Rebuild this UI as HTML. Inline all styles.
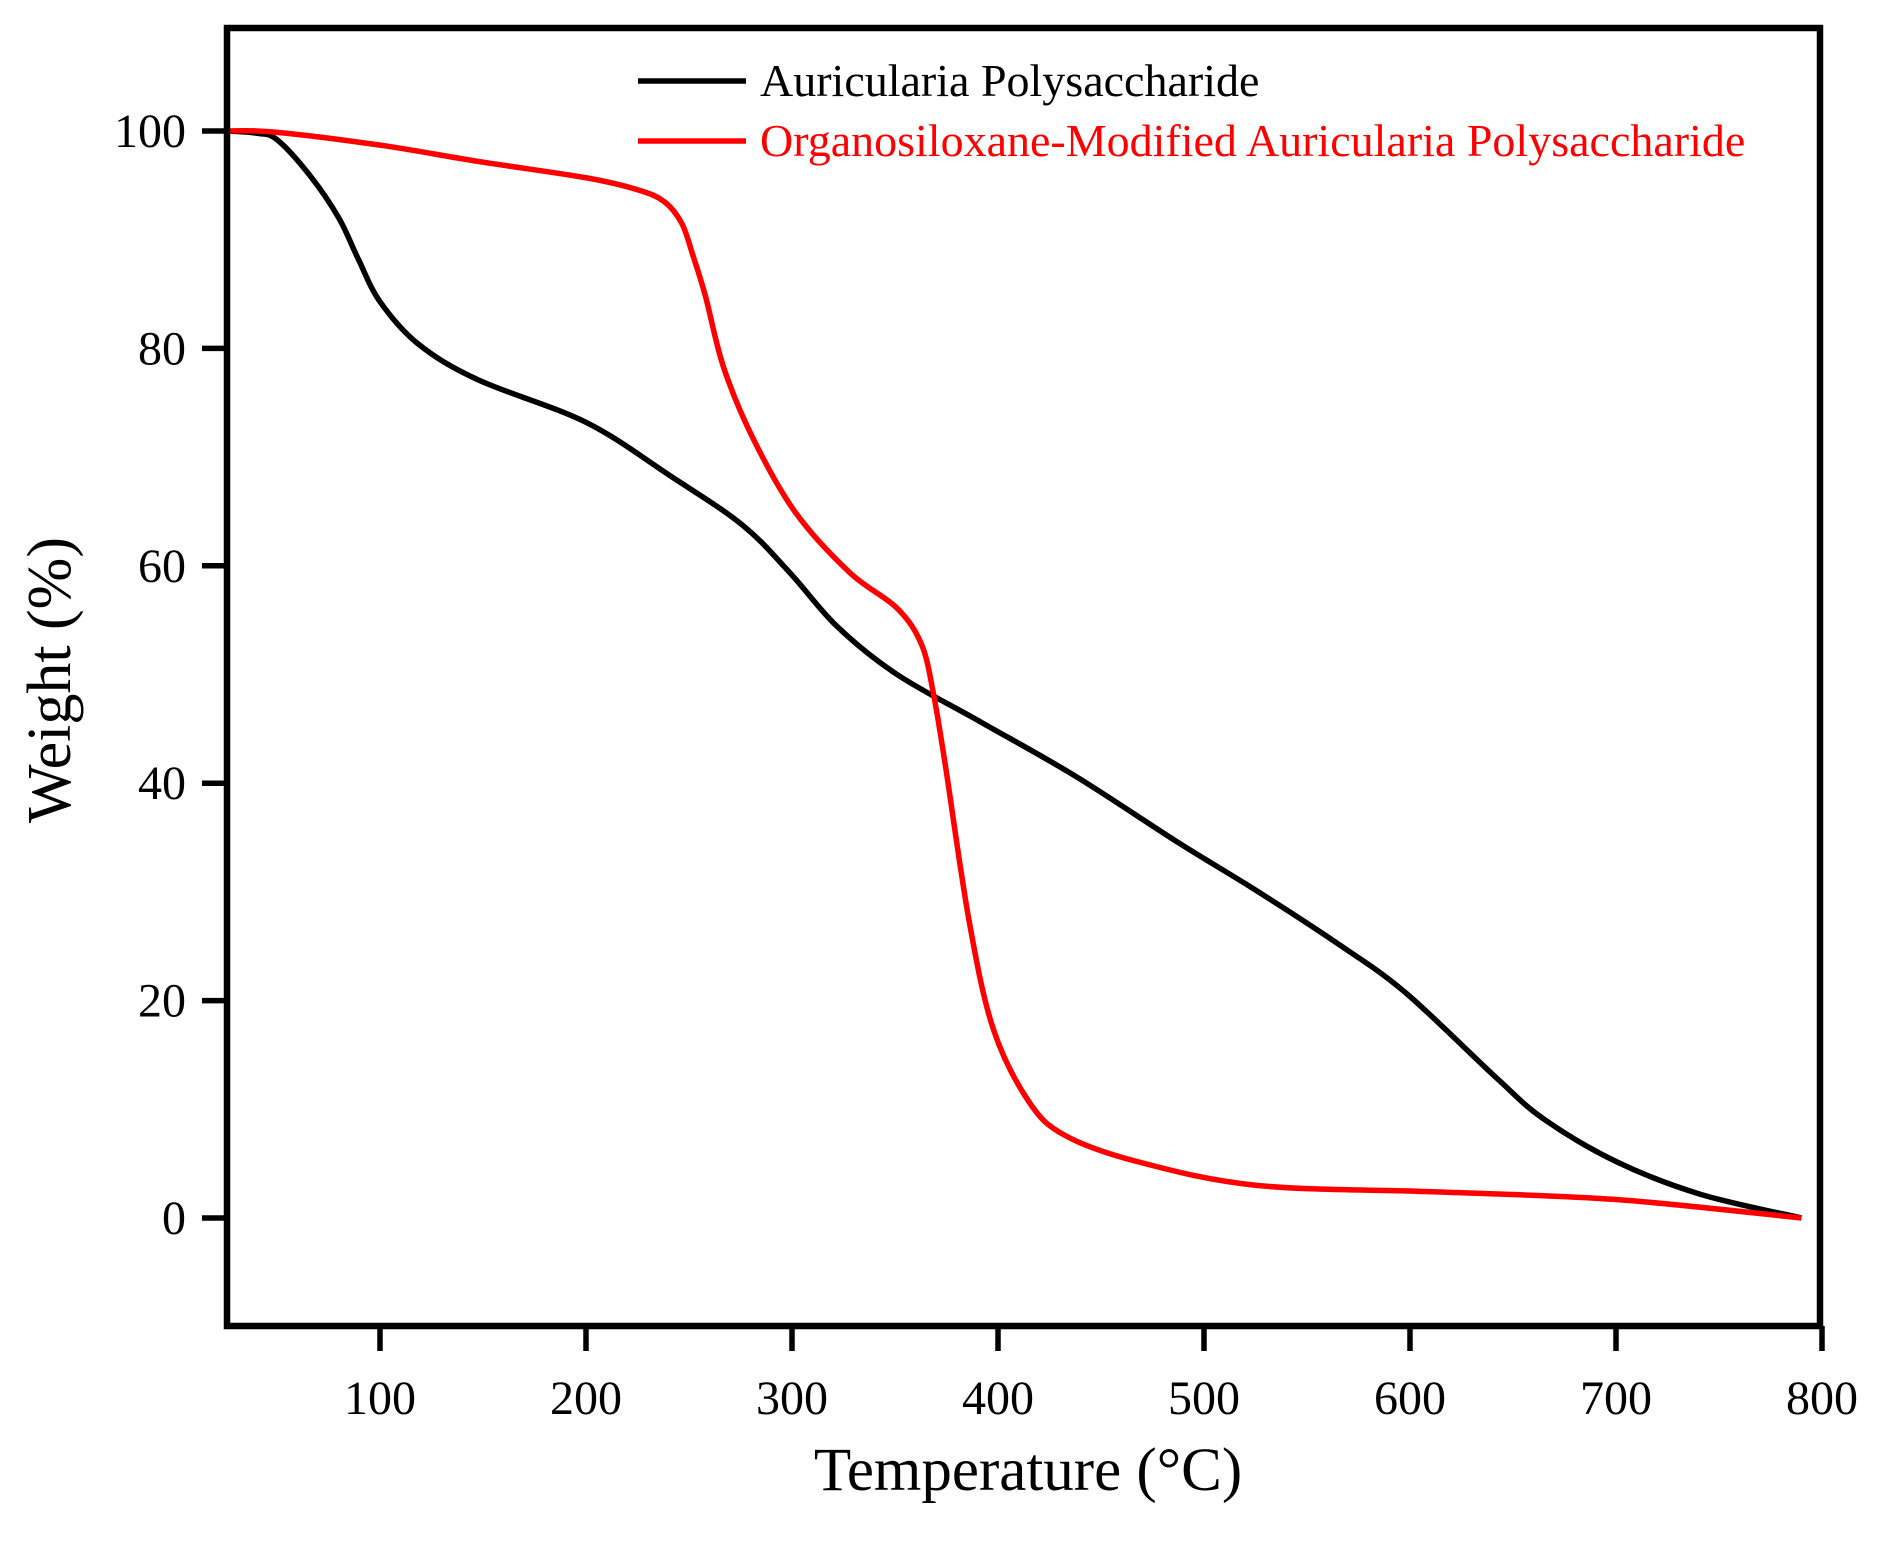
<!DOCTYPE html>
<html><head><meta charset="utf-8"><style>
html,body{margin:0;padding:0;background:#fff}
svg text{font-family:"Liberation Serif",serif}
</style></head><body>
<svg id="chart" width="1877" height="1537" viewBox="0 0 1877 1537" xmlns="http://www.w3.org/2000/svg">
<g id="plot"></g>
</svg>
<script>
const xTicks=[100,200,300,400,500,600,700,800];
const yTicks=[0,20,40,60,80,100];
const blackT=[25,40,50,66,80,89.5,100,118.6,147.7,200,240.7,275.6,298.8,322,351,391.9,438,487.8,525.6,566,598,641.9,665,700,740.7,790];
const blackW=[100,99.8,99.2,95.9,92,88.2,84.3,80.4,77.1,73.2,68.3,63.8,59.4,54.4,50,45.6,40.6,34.5,30.1,25.1,20.7,12.9,9.1,5.2,2.2,0];
const redT=[25,48.8,100,147.7,200,225,238,246.5,252,258,266.9,281.4,301.7,327.9,351,362.8,368.6,374.4,386,397.7,415,432.5,467.4,525.6,612.8,700,790];
const redW=[100,99.9,98.7,97.2,95.7,94.6,93.5,91.5,88.5,84.8,78.2,71.6,64.9,59.4,56.1,52.8,48.3,41.7,27.3,17.4,10.7,7.6,5.2,3,2.4,1.7,0];
const X=v=>174+(v)*2.06;
const Y=v=>1218-v*10.87;
const NS="http://www.w3.org/2000/svg";
const g=document.getElementById('plot');
function mk(t,a,txt){const e=document.createElementNS(NS,t);for(const k in a)e.setAttribute(k,a[k]);if(txt!==undefined)e.textContent=txt;g.appendChild(e);return e;}
function path(xs,ys){const p=xs.map((x,i)=>[X(x),Y(ys[i])]);let d=`M${p[0][0]},${p[0][1]}`;
for(let i=0;i<p.length-1;i++){const p0=p[Math.max(0,i-1)],p1=p[i],p2=p[i+1],p3=p[Math.min(p.length-1,i+2)];
const c1=[p1[0]+(p2[0]-p0[0])/6,p1[1]+(p2[1]-p0[1])/6],c2=[p2[0]-(p3[0]-p1[0])/6,p2[1]-(p3[1]-p1[1])/6];
d+=` C${c1[0]},${c1[1]} ${c2[0]},${c2[1]} ${p2[0]},${p2[1]}`;}return d;}
let e;
e=mk('path',{d:path(blackT,blackW),fill:'none',stroke:'#000','stroke-width':5.5,'stroke-linejoin':'round'});


e=mk('path',{d:path(redT,redW),fill:'none',stroke:'#ff0000','stroke-width':5.5,'stroke-linejoin':'round'});


e=mk('rect',{x:227,y:28,width:1593,height:1298,fill:'none',stroke:'#000','stroke-width':6.5});


xTicks.forEach(t=>{
 e=mk('line',{x1:X(t),x2:X(t),y1:1326,y2:1351,stroke:'#000','stroke-width':5.5});
 
 
 e=mk('text',{x:X(t),y:1414,'text-anchor':'middle','font-size':48},String(t));
 
 
});
yTicks.forEach(t=>{
 e=mk('line',{x1:202,x2:227,y1:Y(t),y2:Y(t),stroke:'#000','stroke-width':5.5});
 
 
 e=mk('text',{x:186,y:Y(t)+16,'text-anchor':'end','font-size':48},String(t));
 
 
});
e=mk('text',{x:1028,y:1490,'text-anchor':'middle','font-size':61},'Temperature (°C)');


e=mk('text',{x:70,y:680,'text-anchor':'middle','font-size':62,transform:'rotate(-90 70 680)'},'Weight (%)');


e=mk('line',{x1:638,x2:746,y1:81,y2:81,stroke:'#000','stroke-width':5.5});


e=mk('text',{x:760,y:96,'font-size':46},'Auricularia Polysaccharide');


e=mk('line',{x1:638,x2:746,y1:141,y2:141,stroke:'#ff0000','stroke-width':5.5});


e=mk('text',{x:760,y:156,'font-size':46,fill:'#ff0000'},'Organosiloxane-Modified Auricularia Polysaccharide');


</script>
</body></html>
